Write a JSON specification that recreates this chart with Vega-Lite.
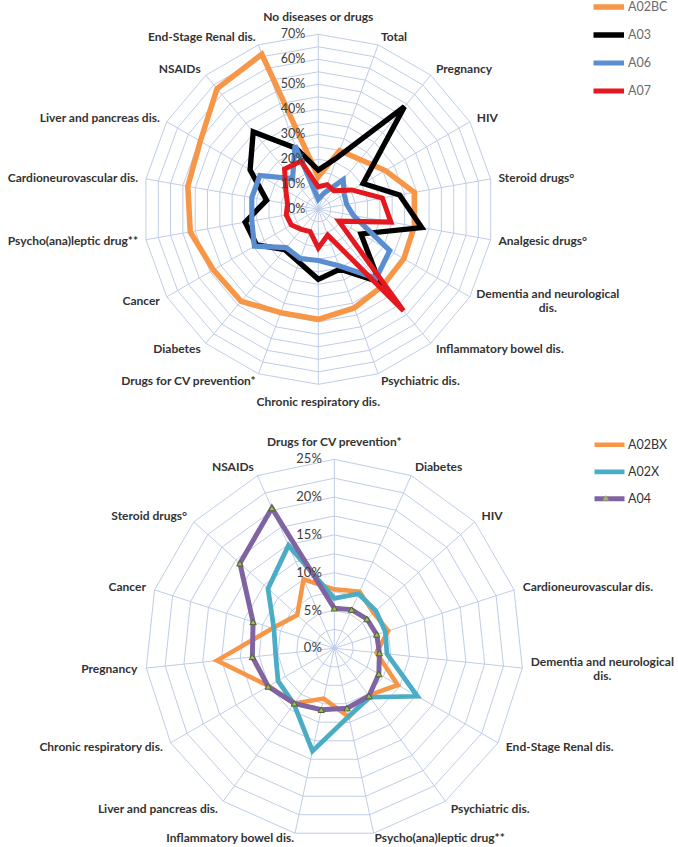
{
"$schema": "https://vega.github.io/schema/vega-lite/v6.json",
"width": 678, "height": 847,
"autosize": {"type": "none"},
"padding": 0,
"config": {"view": {"stroke": null}, "axis": {"disable": true}},
"datasets": {
"cat1": [
{"k":0,"name":"No diseases or drugs"},{"k":1,"name":"Total"},{"k":2,"name":"Pregnancy"},{"k":3,"name":"HIV"},
{"k":4,"name":"Steroid  drugs°"},{"k":5,"name":"Analgesic drugs°"},{"k":6,"name":"Dementia and neurological\ndis."},
{"k":7,"name":"Inflammatory bowel dis."},{"k":8,"name":"Psychiatric dis."},{"k":9,"name":"Chronic respiratory dis."},
{"k":10,"name":"Drugs for CV prevention*"},{"k":11,"name":"Diabetes"},{"k":12,"name":"Cancer"},
{"k":13,"name":"Psycho(ana)leptic drug**"},{"k":14,"name":"Cardioneurovascular dis."},{"k":15,"name":"Liver and pancreas dis."},
{"k":16,"name":"NSAIDs"},{"k":17,"name":"End-Stage Renal dis."}
],
"cat2": [
{"k":0,"name":"Drugs for CV prevention*"},{"k":1,"name":"Diabetes"},{"k":2,"name":"HIV"},{"k":3,"name":"Cardioneurovascular dis."},
{"k":4,"name":"Dementia and neurological\ndis."},{"k":5,"name":"End-Stage Renal dis."},{"k":6,"name":"Psychiatric dis."},
{"k":7,"name":"Psycho(ana)leptic drug**"},{"k":8,"name":"Inflammatory bowel dis."},{"k":9,"name":"Liver and pancreas dis."},
{"k":10,"name":"Chronic respiratory dis."},{"k":11,"name":"Pregnancy"},{"k":12,"name":"Cancer"},{"k":13,"name":"Steroid  drugs°"},
{"k":14,"name":"NSAIDs"}
],
"s1": [
{"s":"A02BC","k":0,"v":13},{"s":"A02BC","k":1,"v":25},{"s":"A02BC","k":2,"v":26},{"s":"A02BC","k":3,"v":31},{"s":"A02BC","k":4,"v":39},{"s":"A02BC","k":5,"v":39},{"s":"A02BC","k":6,"v":39.5},{"s":"A02BC","k":7,"v":40},{"s":"A02BC","k":8,"v":42},{"s":"A02BC","k":9,"v":44},{"s":"A02BC","k":10,"v":44},{"s":"A02BC","k":11,"v":48},{"s":"A02BC","k":12,"v":48.5},{"s":"A02BC","k":13,"v":52},{"s":"A02BC","k":14,"v":53},{"s":"A02BC","k":15,"v":54.5},{"s":"A02BC","k":16,"v":63},{"s":"A02BC","k":17,"v":66},
{"s":"A03","k":0,"v":15.7},{"s":"A03","k":1,"v":22},{"s":"A03","k":2,"v":53.6},{"s":"A03","k":3,"v":20.7},{"s":"A03","k":4,"v":33},{"s":"A03","k":5,"v":42},{"s":"A03","k":6,"v":19.7},{"s":"A03","k":7,"v":38},{"s":"A03","k":8,"v":25.5},{"s":"A03","k":9,"v":28},{"s":"A03","k":10,"v":22.5},{"s":"A03","k":11,"v":21},{"s":"A03","k":12,"v":28.5},{"s":"A03","k":13,"v":29.7},{"s":"A03","k":14,"v":21},{"s":"A03","k":15,"v":31.5},{"s":"A03","k":16,"v":40.5},{"s":"A03","k":17,"v":26},
{"s":"A06","k":0,"v":4},{"s":"A06","k":1,"v":7},{"s":"A06","k":2,"v":15.5},{"s":"A06","k":3,"v":12},{"s":"A06","k":4,"v":11.5},{"s":"A06","k":5,"v":14.3},{"s":"A06","k":6,"v":33},{"s":"A06","k":7,"v":36},{"s":"A06","k":8,"v":24},{"s":"A06","k":9,"v":20.5},{"s":"A06","k":10,"v":21},{"s":"A06","k":11,"v":20},{"s":"A06","k":12,"v":29.5},{"s":"A06","k":13,"v":27},{"s":"A06","k":14,"v":27},{"s":"A06","k":15,"v":27},{"s":"A06","k":16,"v":16},{"s":"A06","k":17,"v":27.2},
{"s":"A07","k":0,"v":9},{"s":"A07","k":1,"v":10.5},{"s":"A07","k":2,"v":9.7},{"s":"A07","k":3,"v":15.5},{"s":"A07","k":4,"v":26},{"s":"A07","k":5,"v":29.5},{"s":"A07","k":6,"v":9.5},{"s":"A07","k":7,"v":53},{"s":"A07","k":8,"v":11},{"s":"A07","k":9,"v":15.5},{"s":"A07","k":10,"v":9.5},{"s":"A07","k":11,"v":10.5},{"s":"A07","k":12,"v":12.5},{"s":"A07","k":13,"v":13},{"s":"A07","k":14,"v":12.5},{"s":"A07","k":15,"v":15},{"s":"A07","k":16,"v":21},{"s":"A07","k":17,"v":20.5}
],
"s2": [
{"s":"A02BX","k":0,"v":7.8},{"s":"A02BX","k":1,"v":8.2},{"s":"A02BX","k":2,"v":7.0},{"s":"A02BX","k":3,"v":7.5},{"s":"A02BX","k":4,"v":5.6},{"s":"A02BX","k":5,"v":9.7},{"s":"A02BX","k":6,"v":7.7},{"s":"A02BX","k":7,"v":9.3},{"s":"A02BX","k":8,"v":6.8},{"s":"A02BX","k":9,"v":9.0},{"s":"A02BX","k":10,"v":10.0},{"s":"A02BX","k":11,"v":15.6},{"s":"A02BX","k":12,"v":8.6},{"s":"A02BX","k":13,"v":6.6},{"s":"A02BX","k":14,"v":10.0},
{"s":"A02X","k":0,"v":6.6},{"s":"A02X","k":1,"v":7.9},{"s":"A02X","k":2,"v":7.4},{"s":"A02X","k":3,"v":7.1},{"s":"A02X","k":4,"v":7.0},{"s":"A02X","k":5,"v":12.7},{"s":"A02X","k":6,"v":8.0},{"s":"A02X","k":7,"v":9.2},{"s":"A02X","k":8,"v":13.9},{"s":"A02X","k":9,"v":9.1},{"s":"A02X","k":10,"v":8.6},{"s":"A02X","k":11,"v":7.8},{"s":"A02X","k":12,"v":8.4},{"s":"A02X","k":13,"v":11.8},{"s":"A02X","k":14,"v":14.9},
{"s":"A04","k":0,"v":5.3},{"s":"A04","k":1,"v":5.6},{"s":"A04","k":2,"v":5.8},{"s":"A04","k":3,"v":5.9},{"s":"A04","k":4,"v":6.0},{"s":"A04","k":5,"v":6.8},{"s":"A04","k":6,"v":7.8},{"s":"A04","k":7,"v":8.1},{"s":"A04","k":8,"v":8.3},{"s":"A04","k":9,"v":9.0},{"s":"A04","k":10,"v":10.1},{"s":"A04","k":11,"v":10.9},{"s":"A04","k":12,"v":11.3},{"s":"A04","k":13,"v":16.8},{"s":"A04","k":14,"v":20.3}
]
},
"layer": [
{
"layer": [
{
"data": {"values": [{"ring": [5,10,15,20,25,30,35,40,45,50,55,60,65,70], "k": [0,1,2,3,4,5,6,7,8,9,10,11,12,13,14,15,16,17]}]},
"transform": [{"flatten": ["ring"]}, {"flatten": ["k"]}, {"calculate": "datum.k*2*PI/18", "as": "a"}, {"calculate": "datum.ring*sin(datum.a)", "as": "x"}, {"calculate": "datum.ring*cos(datum.a)", "as": "y"}],
"mark": {"type": "line", "interpolate": "linear-closed", "stroke": "#BFCDE6", "strokeWidth": 1},
"encoding": {
"x": {"field": "x", "type": "quantitative", "scale": {"domain": [-127.32, 143.88], "nice": false, "zero": false}, "axis": null},
"y": {"field": "y", "type": "quantitative", "scale": {"domain": [-255.08, 83.72], "nice": false, "zero": false}, "axis": null},
"detail": {"field": "ring", "type": "nominal"},
"order": {"field": "k", "type": "quantitative"}
}
},
{
"data": {"name": "cat1"},
"transform": [{"calculate": "datum.k*2*PI/18", "as": "a"}, {"calculate": "70*sin(datum.a)", "as": "x2"}, {"calculate": "70*cos(datum.a)", "as": "y2"}, {"calculate": "0", "as": "x"}, {"calculate": "0", "as": "y"}],
"mark": {"type": "rule", "stroke": "#BFCDE6", "strokeWidth": 1},
"encoding": {
"x": {"field": "x", "type": "quantitative", "scale": {"domain": [-127.32, 143.88], "nice": false, "zero": false}, "axis": null},
"y": {"field": "y", "type": "quantitative", "scale": {"domain": [-255.08, 83.72], "nice": false, "zero": false}, "axis": null},
"x2": {"field": "x2"},
"y2": {"field": "y2"}
}
},
{
"data": {"name": "s1"},
"transform": [{"calculate": "datum.k*2*PI/18", "as": "a"}, {"calculate": "datum.v*sin(datum.a)", "as": "x"}, {"calculate": "datum.v*cos(datum.a)", "as": "y"}],
"mark": {"type": "line", "interpolate": "linear-closed"},
"encoding": {
"x": {"field": "x", "type": "quantitative", "scale": {"domain": [-127.32, 143.88], "nice": false, "zero": false}, "axis": null},
"y": {"field": "y", "type": "quantitative", "scale": {"domain": [-255.08, 83.72], "nice": false, "zero": false}, "axis": null},
"color": {"field": "s", "type": "nominal", "scale": {"domain": ["A02BC","A03","A06","A07"], "range": ["#F79646","#000000","#5B8ED0","#E3191F"]},
"legend": {"orient": "none", "legendX": 593.5, "legendY": -6.7, "title": null, "padding": 0, "symbolType": "M-1.62,0H1.62", "symbolSize": 441, "symbolStrokeWidth": 5, "labelFontSize": 12.5, "labelFont": "Lato", "labelColor": "#6A6A6A", "labelOffset": 7.5, "rowPadding": 0, "clipHeight": 27.4}},
"strokeWidth": {"field": "s", "type": "nominal", "scale": {"domain": ["A02BC","A03","A06","A07"], "range": [5.5, 5, 5, 3.4]}, "legend": null},
"order": {"field": "k", "type": "quantitative"}
}
},
{
"data": {"values": [{"ring":0},{"ring":10},{"ring":20},{"ring":30},{"ring":40},{"ring":50},{"ring":60},{"ring":70}]},
"transform": [{"calculate": "datum.ring + '%'", "as": "lab"}, {"calculate": "0", "as": "x"}, {"calculate": "datum.ring", "as": "y"}],
"mark": {"type": "text", "align": "right", "baseline": "middle", "dx": -13, "font": "Lato", "fontSize": 12.5, "fill": "#404040"},
"encoding": {
"x": {"field": "x", "type": "quantitative", "scale": {"domain": [-127.32, 143.88], "nice": false, "zero": false}, "axis": null},
"y": {"field": "y", "type": "quantitative", "scale": {"domain": [-255.08, 83.72], "nice": false, "zero": false}, "axis": null},
"text": {"field": "lab"}
}
},
{
"data": {"name": "cat1"},
"transform": [{"calculate": "datum.k*2*PI/18", "as": "a"}, {"calculate": "abs(sin(datum.a)) < 0.01 ? 77 : 73.2", "as": "lr"}, {"calculate": "datum.lr*sin(datum.a)", "as": "x"}, {"calculate": "datum.lr*cos(datum.a)", "as": "y"}, {"calculate": "indexof(datum.name, '\\n') >= 0 ? 'm' : (sin(datum.a) > 0.01 ? 'r' : (sin(datum.a) < -0.01 ? 'l' : 'c'))", "as": "side"}],
"layer": [
{"transform": [{"filter": "datum.side == 'r'"}],
"mark": {"type": "text", "align": "left", "baseline": "middle", "font": "Lato", "fontWeight": "bold", "fontSize": 12, "fill": "#333333"},
"encoding": {
"x": {"field": "x", "type": "quantitative", "scale": {"domain": [-127.32, 143.88], "nice": false, "zero": false}, "axis": null},
"y": {"field": "y", "type": "quantitative", "scale": {"domain": [-255.08, 83.72], "nice": false, "zero": false}, "axis": null},
"text": {"field": "name"}}},
{"transform": [{"filter": "datum.side == 'm'"}],
"mark": {"type": "text", "align": "center", "baseline": "middle", "dx": 71, "dy": -7, "font": "Lato", "fontWeight": "bold", "fontSize": 12, "fill": "#333333", "lineBreak": "\n"},
"encoding": {
"x": {"field": "x", "type": "quantitative", "scale": {"domain": [-127.32, 143.88], "nice": false, "zero": false}, "axis": null},
"y": {"field": "y", "type": "quantitative", "scale": {"domain": [-255.08, 83.72], "nice": false, "zero": false}, "axis": null},
"text": {"field": "name"}}},
{"transform": [{"filter": "datum.side == 'l'"}],
"mark": {"type": "text", "align": "right", "baseline": "middle", "font": "Lato", "fontWeight": "bold", "fontSize": 12, "fill": "#333333"},
"encoding": {
"x": {"field": "x", "type": "quantitative", "scale": {"domain": [-127.32, 143.88], "nice": false, "zero": false}, "axis": null},
"y": {"field": "y", "type": "quantitative", "scale": {"domain": [-255.08, 83.72], "nice": false, "zero": false}, "axis": null},
"text": {"field": "name"}}},
{"transform": [{"filter": "datum.side == 'c'"}],
"mark": {"type": "text", "align": "center", "baseline": "middle", "font": "Lato", "fontWeight": "bold", "fontSize": 12, "fill": "#333333"},
"encoding": {
"x": {"field": "x", "type": "quantitative", "scale": {"domain": [-127.32, 143.88], "nice": false, "zero": false}, "axis": null},
"y": {"field": "y", "type": "quantitative", "scale": {"domain": [-255.08, 83.72], "nice": false, "zero": false}, "axis": null},
"text": {"field": "name"}}}
]
}
]
},
{
"layer": [
{
"data": {"values": [{"ring": [2.5,5,7.5,10,12.5,15,17.5,20,22.5,25], "k": [0,1,2,3,4,5,6,7,8,9,10,11,12,13,14]}]},
"transform": [{"flatten": ["ring"]}, {"flatten": ["k"]}, {"calculate": "datum.k*2*PI/15", "as": "a"}, {"calculate": "datum.ring*sin(datum.a)", "as": "x"}, {"calculate": "datum.ring*cos(datum.a)", "as": "y"}],
"mark": {"type": "line", "interpolate": "linear-closed", "stroke": "#BFCDE6", "strokeWidth": 1},
"encoding": {
"x": {"field": "x", "type": "quantitative", "scale": {"domain": [-44.22, 45.46], "nice": false, "zero": false}, "axis": null},
"y": {"field": "y", "type": "quantitative", "scale": {"domain": [-26.28, 85.75], "nice": false, "zero": false}, "axis": null},
"detail": {"field": "ring", "type": "nominal"},
"order": {"field": "k", "type": "quantitative"}
}
},
{
"data": {"name": "cat2"},
"transform": [{"calculate": "datum.k*2*PI/15", "as": "a"}, {"calculate": "25*sin(datum.a)", "as": "x2"}, {"calculate": "25*cos(datum.a)", "as": "y2"}, {"calculate": "0", "as": "x"}, {"calculate": "0", "as": "y"}],
"mark": {"type": "rule", "stroke": "#BFCDE6", "strokeWidth": 1},
"encoding": {
"x": {"field": "x", "type": "quantitative", "scale": {"domain": [-44.22, 45.46], "nice": false, "zero": false}, "axis": null},
"y": {"field": "y", "type": "quantitative", "scale": {"domain": [-26.28, 85.75], "nice": false, "zero": false}, "axis": null},
"x2": {"field": "x2"},
"y2": {"field": "y2"}
}
},
{
"data": {"name": "s2"},
"transform": [{"calculate": "datum.k*2*PI/15", "as": "a"}, {"calculate": "datum.v*sin(datum.a)", "as": "x"}, {"calculate": "datum.v*cos(datum.a)", "as": "y"}],
"layer": [
{
"mark": {"type": "line", "interpolate": "linear-closed"},
"encoding": {
"x": {"field": "x", "type": "quantitative", "scale": {"domain": [-44.22, 45.46], "nice": false, "zero": false}, "axis": null},
"y": {"field": "y", "type": "quantitative", "scale": {"domain": [-26.28, 85.75], "nice": false, "zero": false}, "axis": null},
"color": {"field": "s", "type": "nominal", "scale": {"domain": ["A02BX","A02X","A04"], "range": ["#F79646","#4BACC6","#8064A2"]},
"legend": {"orient": "none", "legendX": 594.5, "legendY": 431.5, "title": null, "padding": 0, "symbolType": "M-1.62,0H1.62", "symbolSize": 441, "symbolStrokeWidth": 5, "labelFontSize": 12.5, "labelFont": "Lato", "labelColor": "#333333", "labelOffset": 7.5, "rowPadding": 0, "clipHeight": 26.5}},
"strokeWidth": {"field": "s", "type": "nominal", "scale": {"domain": ["A02BX","A02X","A04"], "range": [4.5, 5, 5]}, "legend": null},
"order": {"field": "k", "type": "quantitative"}
}
},
{
"transform": [{"filter": "datum.s == 'A04'"}, {"calculate": "datum.s", "as": "marker"}],
"mark": {"type": "point", "filled": true, "fill": "#9BBB59", "stroke": "#4F6228", "strokeWidth": 1, "size": 40, "opacity": 1},
"encoding": {
"x": {"field": "x", "type": "quantitative", "scale": {"domain": [-44.22, 45.46], "nice": false, "zero": false}, "axis": null},
"y": {"field": "y", "type": "quantitative", "scale": {"domain": [-26.28, 85.75], "nice": false, "zero": false}, "axis": null},
"shape": {"field": "marker", "type": "nominal", "scale": {"domain": ["A04"], "range": ["triangle-up"]},
"legend": {"orient": "none", "legendX": 600.8, "legendY": 484.5, "title": null, "padding": 0, "symbolSize": 40, "symbolFillColor": "#9BBB59", "symbolStrokeColor": "#4F6228", "symbolStrokeWidth": 1, "labelExpr": "''", "clipHeight": 26.5}}
}
}
]
},
{
"data": {"values": [{"ring":0},{"ring":5},{"ring":10},{"ring":15},{"ring":20},{"ring":25}]},
"transform": [{"calculate": "datum.ring + '%'", "as": "lab"}, {"calculate": "0", "as": "x"}, {"calculate": "datum.ring", "as": "y"}],
"mark": {"type": "text", "align": "right", "baseline": "middle", "dx": -12.5, "font": "Lato", "fontSize": 13, "fill": "#404040"},
"encoding": {
"x": {"field": "x", "type": "quantitative", "scale": {"domain": [-44.22, 45.46], "nice": false, "zero": false}, "axis": null},
"y": {"field": "y", "type": "quantitative", "scale": {"domain": [-26.28, 85.75], "nice": false, "zero": false}, "axis": null},
"text": {"field": "lab"}
}
},
{
"data": {"name": "cat2"},
"transform": [{"calculate": "datum.k*2*PI/15", "as": "a"}, {"calculate": "abs(sin(datum.a)) < 0.01 ? 27.3 : (cos(datum.a) < -0.95 ? 25.6 : 26.2)", "as": "lr"}, {"calculate": "datum.lr*sin(datum.a)", "as": "x"}, {"calculate": "datum.lr*cos(datum.a)", "as": "y"}, {"calculate": "indexof(datum.name, '\\n') >= 0 ? 'm' : (sin(datum.a) > 0.01 ? 'r' : (sin(datum.a) < -0.01 ? 'l' : 'c'))", "as": "side"}],
"layer": [
{"transform": [{"filter": "datum.side == 'r'"}],
"mark": {"type": "text", "align": "left", "baseline": "middle", "font": "Lato", "fontWeight": "bold", "fontSize": 12, "fill": "#333333"},
"encoding": {
"x": {"field": "x", "type": "quantitative", "scale": {"domain": [-44.22, 45.46], "nice": false, "zero": false}, "axis": null},
"y": {"field": "y", "type": "quantitative", "scale": {"domain": [-26.28, 85.75], "nice": false, "zero": false}, "axis": null},
"text": {"field": "name"}}},
{"transform": [{"filter": "datum.side == 'm'"}],
"mark": {"type": "text", "align": "center", "baseline": "middle", "dx": 71, "dy": -7, "font": "Lato", "fontWeight": "bold", "fontSize": 12, "fill": "#333333", "lineBreak": "\n"},
"encoding": {
"x": {"field": "x", "type": "quantitative", "scale": {"domain": [-44.22, 45.46], "nice": false, "zero": false}, "axis": null},
"y": {"field": "y", "type": "quantitative", "scale": {"domain": [-26.28, 85.75], "nice": false, "zero": false}, "axis": null},
"text": {"field": "name"}}},
{"transform": [{"filter": "datum.side == 'l'"}],
"mark": {"type": "text", "align": "right", "baseline": "middle", "font": "Lato", "fontWeight": "bold", "fontSize": 12, "fill": "#333333"},
"encoding": {
"x": {"field": "x", "type": "quantitative", "scale": {"domain": [-44.22, 45.46], "nice": false, "zero": false}, "axis": null},
"y": {"field": "y", "type": "quantitative", "scale": {"domain": [-26.28, 85.75], "nice": false, "zero": false}, "axis": null},
"text": {"field": "name"}}},
{"transform": [{"filter": "datum.side == 'c'"}],
"mark": {"type": "text", "align": "center", "baseline": "middle", "font": "Lato", "fontWeight": "bold", "fontSize": 12, "fill": "#333333"},
"encoding": {
"x": {"field": "x", "type": "quantitative", "scale": {"domain": [-44.22, 45.46], "nice": false, "zero": false}, "axis": null},
"y": {"field": "y", "type": "quantitative", "scale": {"domain": [-26.28, 85.75], "nice": false, "zero": false}, "axis": null},
"text": {"field": "name"}}}
]
}
]
}
],
"resolve": {"scale": {"x": "independent", "y": "independent", "color": "independent", "strokeWidth": "independent", "shape": "independent"}}
}
